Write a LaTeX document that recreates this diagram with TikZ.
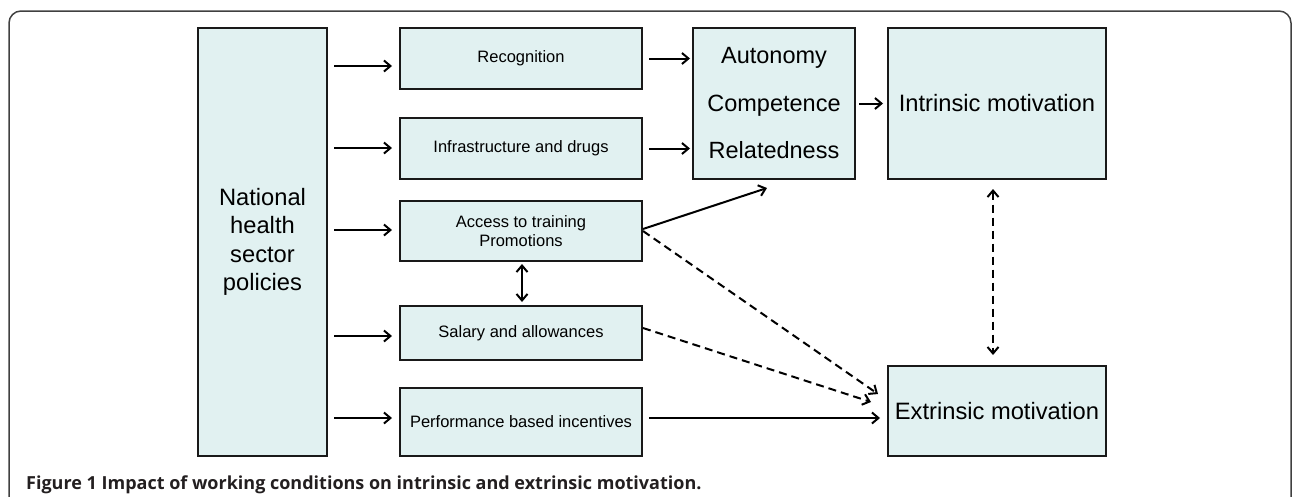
\documentclass[tikz,border=0pt]{standalone}
\usepackage{fontspec}
\setmainfont{Liberation Sans}
\newfontfamily\capfont{Open Sans}
\usetikzlibrary{arrows.meta,calc}
\definecolor{boxfill}{RGB}{225,241,241}
\definecolor{capcol}{RGB}{35,31,32}
\begin{document}
\begin{tikzpicture}[x=1pt,y=-1pt,
  box/.style={draw=black!90, line width=2pt, fill=boxfill, inner sep=0pt, align=center},
  small/.style={font=\fontsize{16.5}{18.5}\selectfont},
  big/.style={font=\fontsize{23.7}{28.5}\selectfont},
  tip/.tip={Straight Barb[length=6.5pt,width=11pt,line width=2pt]},
  arr/.style={line width=2pt, -tip},
  darr/.style={line width=2pt, tip-tip},
  dsh/.style={dash pattern=on 8pt off 5pt}]
\useasboundingbox (0,0) rectangle (1292,496);
\draw[line width=1.5pt, draw=black!75, rounded corners=12pt] (9,520) -- (9,11) -- (1291,11) -- (1291,520);

\node[box, big, minimum width=129pt, minimum height=428pt] (nat) at (262.5,242) {National\\health\\sector\\policies};
\node[box, small, minimum width=242pt, minimum height=61pt] (rec) at (521,58.5) {Recognition};
\node[box, small, minimum width=242pt, minimum height=61pt] (inf) at (521,148.5) {Infrastructure and drugs};
\node[box, small, minimum width=242pt, minimum height=60pt] (acc) at (521,231) {Access to training\\Promotions};
\node[box, small, minimum width=242pt, minimum height=54pt] (sal) at (521,333) {Salary and allowances};
\node[box, small, minimum width=242pt, minimum height=68pt] (per) at (521,422) {Performance based incentives};
\node[box, font=\fontsize{23.5}{47.5}\selectfont, minimum width=162pt, minimum height=151pt] (acr) at (774,103.5) {Autonomy\\Competence\\Relatedness};
\node[box, big, minimum width=218pt, minimum height=151pt] (int) at (997,103.5) {Intrinsic motivation};
\node[box, big, minimum width=218pt, minimum height=90pt] (ext) at (997,411) {Extrinsic motivation};

\foreach \n/\dy in {rec/7.5, inf/-0.5, acc/-1, sal/3, per/-4}{
  \draw[arr, shorten <=6pt, shorten >=7pt] ($(nat.east |- \n.west)+(0,\dy)$) -- ($(\n.west)+(0,\dy)$);
}
\draw[arr, shorten <=6pt, shorten >=2pt] (rec.east) -- (rec.east -| acr.west);
\draw[arr, shorten <=6pt, shorten >=2pt] (inf.east) -- (inf.east -| acr.west);
\draw[arr, shorten <=3pt, shorten >=4pt] (acr.east) -- (int.west);
\draw[arr] ($(acc.east)+(0,-2)$) -- ($(acr.south)+(-7,8)$);
\draw[arr, dsh] (acc.east) -- ($(ext.west)+(-9,-17)$);
\draw[arr, dsh] ($(sal.east)+(0,-5)$) -- ($(ext.west)+(-16,-9)$);
\draw[arr, shorten <=6pt] ($(per.east)+(0,-4)$) -- ($(ext.west)+(-7,7)$);
\draw[darr, shorten <=2pt, shorten >=3pt] ($(acc.south)+(1,0)$) -- ($(sal.north)+(1,0)$);
\draw[darr, dsh, shorten <=9pt, shorten >=10pt] ($(int.south)+(-4,0)$) -- ($(ext.north)+(-4,0)$);

\node[anchor=base west, inner sep=0pt, text=capcol, font=\capfont\bfseries\fontsize{18}{20}\selectfont] (cap) at (26,489) {Figure 1 Impact of working conditions on intrinsic and extrinsic motivation.};
\end{tikzpicture}
\end{document}
